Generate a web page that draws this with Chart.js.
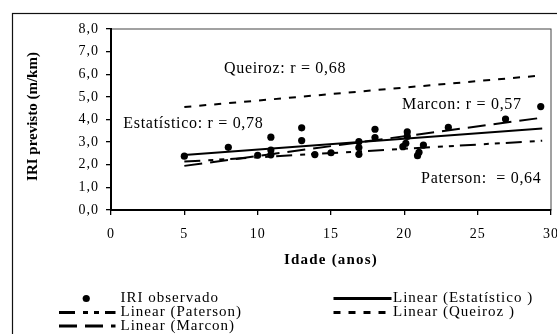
<!DOCTYPE html>
<html>
<head>
<meta charset="utf-8">
<script src="https://cdn.jsdelivr.net/npm/chart.js@4.4.1/dist/chart.umd.min.js"></script>
<style>
  html, body { margin: 0; padding: 0; background: #fff; }
</style>
</head>
<body>
<canvas id="iriChart" width="557" height="334"></canvas>
<script>
// ================= DADOS =================
// IRI observado x idade
const idade = [5.0, 8.0, 10.0, 10.9, 10.9, 10.9, 13.0, 13.0, 13.9, 15.0, 16.9, 16.9, 16.9,
               18.0, 18.0, 19.9, 20.1, 20.2, 20.2, 20.9, 21.0, 21.3, 23.0, 26.9, 29.3];
const iriObservado = [2.38, 2.77, 2.42, 3.22, 2.65, 2.44, 3.63, 3.07, 2.45, 2.53, 3.02, 2.76, 2.46,
                      3.57, 3.20, 2.80, 2.95, 3.25, 3.45, 2.40, 2.55, 2.87, 3.65, 4.02, 4.57];

// retas de tendencia (inicio e fim)
const idadeReta = [5.0, 29.4];
const retaEstatistico = [2.43, 3.60];
const retaPaterson = [2.14, 3.06];
const retaQueiroz = [4.55, 5.95];
const retaMarcon = [1.95, 4.08];

const xTickLabels = ['0', '5', '10', '15', '20', '25', '30'];
const yTickLabels = ['0,0', '1,0', '2,0', '3,0', '4,0', '5,0', '6,0', '7,0', '8,0'];

// textos dentro do grafico (posicao em unidades dos eixos)
const rotulos = [
  { text: 'Queiroz: r = 0,68', x: 7.7, y: 6.22 },
  { text: 'Estatístico: r = 0,78', x: 0.84, y: 3.79 },
  { text: 'Marcon: r = 0,57', x: 19.84, y: 4.64 },
  { text: 'Paterson:  = 0,64', x: 21.14, y: 1.38 }
];

const SERIF = "'Liberation Serif', 'Times New Roman', serif";

// ================= HELPERS =================
const pontos = (xs, ys) => xs.map((x, i) => ({ x: x, y: ys[i] }));

function reta(label, ys, dash) {
  return {
    type: 'line',
    label: label,
    data: pontos(idadeReta, ys),
    borderColor: '#000',
    borderWidth: 2,
    borderDash: dash,
    pointRadius: 0,
    fill: false,
    tension: 0
  };
}

function texto(ctx, str, x, y, font, spacing, align) {
  ctx.save();
  ctx.font = font;
  ctx.letterSpacing = spacing + 'px';
  ctx.fillStyle = '#000';
  ctx.textAlign = align || 'left';
  ctx.textBaseline = 'middle';
  ctx.fillText(str, x, y);
  ctx.restore();
}

// legenda em duas colunas, como no original
const legenda = [
  { ds: 0, col: 0, row: 0 },
  { ds: 1, col: 1, row: 0 },
  { ds: 2, col: 0, row: 1 },
  { ds: 3, col: 1, row: 1 },
  { ds: 4, col: 0, row: 2 }
];
const legCols = [{ x0: 59, x1: 115.5, tx: 120.5 }, { x0: 333.5, x1: 391.5, tx: 393 }];
const legRows = [298.5, 312.5, 326];

const extras = {
  id: 'extras',
  beforeDraw(chart) {
    const ctx = chart.ctx;
    ctx.letterSpacing = '1px'; // rotulos dos eixos
    const a = chart.chartArea;
    ctx.save();
    ctx.strokeStyle = '#111';
    ctx.lineWidth = 1.2;
    ctx.strokeRect(12.5, 13.5, 600, 400);
    ctx.strokeStyle = '#444';
    ctx.lineWidth = 1;
    ctx.strokeRect(a.left, a.top, a.right - a.left, a.bottom - a.top);
    ctx.restore();
  },
  afterDraw(chart) {
    const ctx = chart.ctx;
    const a = chart.chartArea;
    const sx = chart.scales.x, sy = chart.scales.y;

    // titulo eixo y
    ctx.save();
    ctx.translate(33, (a.top + a.bottom) / 2 - 3);
    ctx.rotate(-Math.PI / 2);
    texto(ctx, 'IRI previsto (m/km)', 0, 0, 'bold 15px ' + SERIF, 0, 'center');
    ctx.restore();

    // titulo eixo x
    texto(ctx, 'Idade (anos)', (a.left + a.right) / 2, 260, 'bold 15px ' + SERIF, 1.2, 'center');

    // rotulos r
    rotulos.forEach(r => {
      texto(ctx, r.text, sx.getPixelForValue(r.x), sy.getPixelForValue(r.y), '16px ' + SERIF, 0.7, 'left');
    });

    // legenda
    legenda.forEach(item => {
      const ds = chart.data.datasets[item.ds];
      const c = legCols[item.col];
      const y = legRows[item.row];
      ctx.save();
      if (ds.type === 'line') {
        ctx.strokeStyle = '#000';
        ctx.lineWidth = 3;
        ctx.setLineDash(ds.borderDash || []);
        ctx.beginPath();
        ctx.moveTo(c.x0, y);
        ctx.lineTo(c.x1, y);
        ctx.stroke();
      } else {
        ctx.fillStyle = '#000';
        ctx.beginPath();
        ctx.arc((c.x0 + c.x1) / 2 - 1, y, 3.6, 0, Math.PI * 2);
        ctx.fill();
      }
      ctx.restore();
      texto(ctx, ds.label, c.tx, y, '15px ' + SERIF, 1, 'left');
    });
  }
};

// ================= GRAFICO =================
Chart.defaults.font.family = SERIF;
Chart.defaults.color = '#000';

new Chart(document.getElementById('iriChart').getContext('2d'), {
  type: 'scatter',
  data: {
    datasets: [
      {
        type: 'scatter',
        label: 'IRI observado',
        data: pontos(idade, iriObservado),
        backgroundColor: '#000',
        borderWidth: 0,
        pointRadius: 3.6
      },
      reta('Linear (Estatístico )', retaEstatistico, []),
      reta('Linear (Paterson)', retaPaterson, [16, 8, 5, 6, 5, 6]),
      reta('Linear (Queiroz )', retaQueiroz, [7, 8]),
      reta('Linear (Marcon)', retaMarcon, [18, 8])
    ]
  },
  options: {
    responsive: false,
    animation: false,
    layout: { padding: { top: 29, right: 6, left: 0, bottom: 0 } },
    plugins: { legend: { display: false }, tooltip: { enabled: false } },
    scales: {
      x: {
        type: 'linear',
        min: 0, max: 30,
        ticks: {
          stepSize: 5, autoSkip: false, maxRotation: 0, padding: 11,
          font: { size: 14 }, color: '#000',
          callback: (v, i) => xTickLabels[i]
        },
        grid: { drawOnChartArea: false, color: '#000', tickLength: 5, lineWidth: 1.3 },
        border: { color: '#000', width: 2 },
        afterFit(s) { s.height = 124; s.paddingLeft = 0; s.paddingRight = 0; }
      },
      y: {
        type: 'linear',
        min: 0, max: 8,
        ticks: {
          stepSize: 1, autoSkip: false, padding: 7,
          font: { size: 14 }, color: '#000',
          callback: (v, i) => yTickLabels[i]
        },
        grid: { drawOnChartArea: false, color: '#000', tickLength: 5, lineWidth: 1.3 },
        border: { color: '#000', width: 2 },
        afterFit(s) { s.width = 111; s.paddingTop = 0; s.paddingBottom = 0; }
      }
    }
  },
  plugins: [extras]
});
</script>
</body>
</html>
